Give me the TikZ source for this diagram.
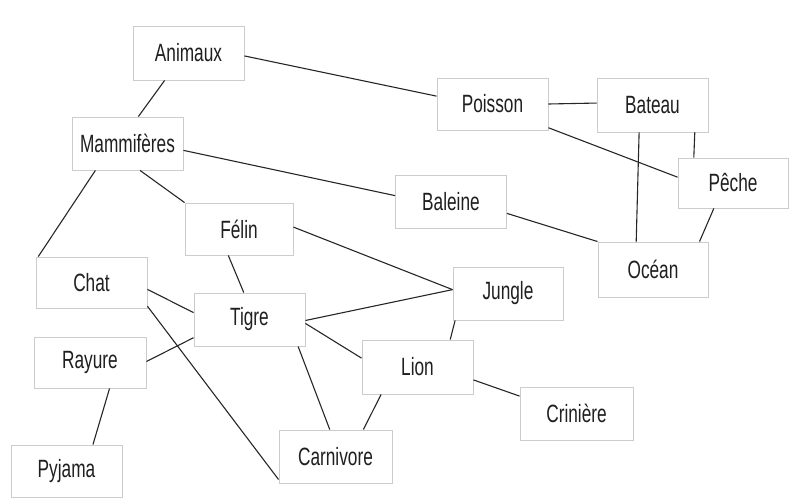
\documentclass[tikz,border=0pt]{standalone}
\usepackage{fontspec}
\setmainfont{Liberation Sans}[FakeStretch=0.69]
\begin{document}
\begin{tikzpicture}[x=1pt,y=-1pt,
  concept/.style={draw=gray!40, line width=0.9pt, fill=white,
    minimum width=111pt, minimum height=53pt, inner sep=0pt,
    text=black!88, font=\fontsize{25}{30}\selectfont},
  link/.style={draw=black!85, line width=1.1pt}]
\useasboundingbox (0,0) rectangle (809,498);

% concepts
\node[concept, minimum height=54pt] (anim) at (188.5,53) {Animaux};
\node[concept] (mamm) at (127.5,143.5) {Mammifères};
\node[concept, minimum width=108pt, minimum height=52pt] (felin) at (239,229) {Félin};
\node[concept] (bal) at (451,201.5) {Baleine};
\node[concept, minimum height=52pt] (pois) at (492.5,104) {Poisson};
\node[concept, minimum height=54pt] (bat) at (652.5,105) {Bateau};
\node[concept, minimum width=110pt, minimum height=50pt] (peche) at (733,183) {Pêche};
\node[concept, minimum width=110pt, minimum height=55pt] (ocean) at (653,269.5) {Océan};
\node[concept, minimum width=110pt] (jungle) at (508,293.5) {Jungle};
\node[concept, minimum height=51pt] (chat) at (91.5,282.5) {Chat};
\node[concept] (tigre) at (249.5,319.5) {Tigre};
\node[concept, minimum width=112pt, minimum height=51pt] (rayure) at (90,362.5) {Rayure};
\node[concept, minimum height=52pt] (pyj) at (66.5,471) {Pyjama};
\node[concept, minimum width=113pt] (carn) at (335.5,456.5) {Carnivore};
\node[concept, minimum height=54pt] (lion) at (417.5,367) {Lion};
\node[concept, minimum width=113pt] (crin) at (576.5,413.5) {Crinière};

% links
\draw[link] (anim.-3) -- (pois.172);
\draw[link] (anim.-131) -- (mamm.68);
\draw[link] (mamm.-7) -- (bal.174);
\draw[link] (mamm.-65) -- (felin.north west);
\draw[link] (mamm.-140) -- (chat.154);
\draw[link] (felin.2) -- (jungle.176.5);
\draw[link] (felin.-112) -- (tigre.102);
\draw[link] (chat.-7) -- (tigre.173);
\draw[link] (chat.-23) -- (carn.-158);
\draw[link] (tigre.-162.5) -- (rayure.1.5);
\draw[link] (tigre.-1.5) -- (jungle.176.5);
\draw[link] (tigre.-4.6) -- (lion.171);
\draw[link] (tigre.-29) -- (carn.102);
\draw[link] (rayure.-53) -- (pyj.45);
\draw[link] (lion.40) -- (jungle.-153);
\draw[link] (lion.-143) -- (carn.44);
\draw[link] (lion.-13) -- (crin.163.5);
\draw[link] (pois.0.7) -- (bat.178);
\draw[link] (pois.-23) -- (peche.174);
\draw[link] (bat.-116) -- (ocean.121);
\draw[link] (bat.-33.5) -- (peche.147);
\draw[link] (bal.-12) -- (ocean.north west);
\draw[link] (peche.-127.6) -- (ocean.31.5);
\end{tikzpicture}
\end{document}
